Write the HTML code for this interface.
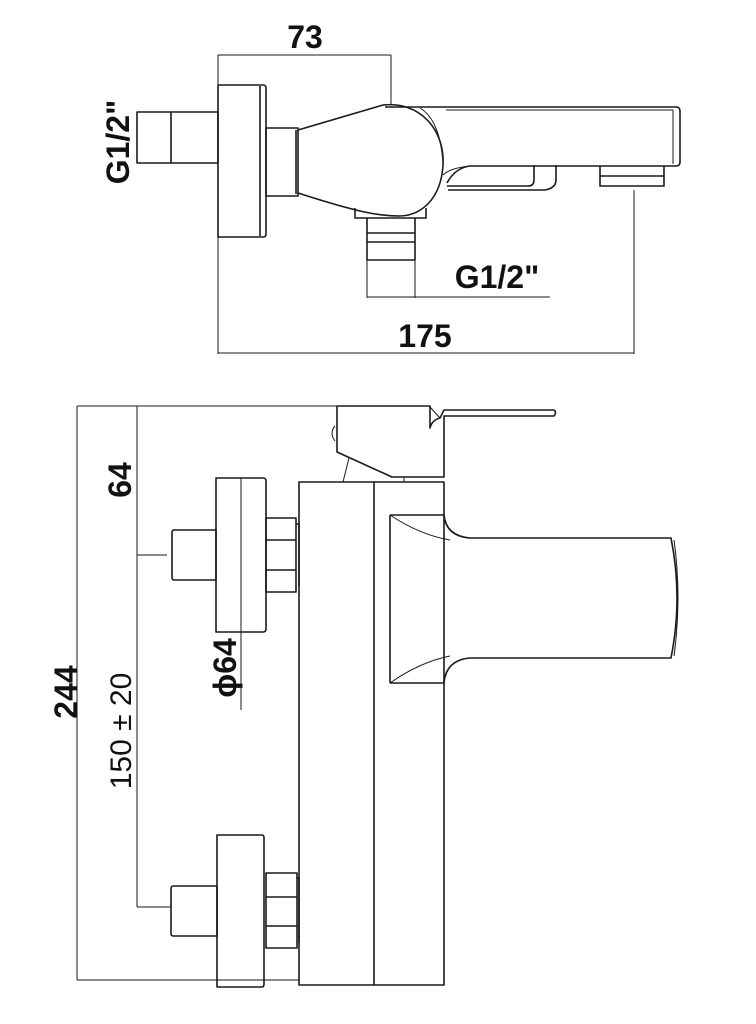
<!DOCTYPE html>
<html><head><meta charset="utf-8"><style>
html,body{margin:0;padding:0;background:#fff}
svg{display:block}
.l{fill:none;stroke:#1a1a1a;stroke-width:1.6;stroke-linejoin:round}
.t{stroke-width:1}
text{font-family:"Liberation Sans",sans-serif;fill:#111}
.b{font-weight:bold;font-size:32px}
</style></head><body>
<svg width="756" height="1024" viewBox="0 0 756 1024">
<!-- TOP VIEW -->
<g class="l">
<path class="t" d="M218 55H391M218 55V354M391 55V105M218 353H634M634 190V354M367 260V298M415 260V298M367 297H550"/>
<path d="M137 112H218V163H137Z M171 112V163"/>
<path d="M218 85H263Q266 85 266 88V234Q266 237 263 237H218Z M260 86V236"/>
<path d="M266 128H298V196H266Z M296 130V194"/>
<path d="M298 130L383 105C420 101 445 130 443 165C441 200 420 216 399 216C380 216 360 213 298 193"/>
<path d="M385 107H676Q680 107 680 111V162Q680 166 676 166H470Q455 168 447 183"/>
<path class="t" d="M420 108Q440 120 443 163M446 110H673V164M443 175Q450 168 470 166"/>
<path d="M534 165V180Q534 186 528 186H447M556 165V180Q556 188 545 190H448"/>
<path d="M600 166V186H664V166M600 176H664"/>
<path d="M355 208V218H426V208M367 218V260H415V218M367 233H415M367 242H415"/>
</g>
<text class="b" x="305" y="48" text-anchor="middle">73</text>
<text class="b" x="425" y="347" text-anchor="middle">175</text>
<text class="b" x="497" y="288" text-anchor="middle" font-size="30">G1/2"</text>
<text class="b" transform="translate(129,142) rotate(-90)" text-anchor="middle" font-size="30">G1/2"</text>

<!-- SIDE VIEW -->
<g class="l">
<path class="t" d="M77 406H337M77 406V980M77 980H300M137 406V907M137 555H167M137 907H171M241 478V710"/>
<path d="M337 406H430V428Q432 420 440 418L444 410H554Q557 412 554 416H444V477H392L337 452Z"/>
<path class="t" d="M430 407L440 418M349 458L343 482M404 477V482"/>
<path class="t" d="M335 426Q329 433 335 441"/>
<path d="M299 482H444V985H299Z M374 482V985"/>
<path d="M390 515V683M390 515H444Q446 536 470 538H671Q683 598 671 658H470Q446 660 444 683H390"/>
<path class="t" d="M390 515Q420 535 450 540M390 683Q420 662 450 656M674 540Q682 598 674 656"/>
<path d="M216 478H263Q266 478 266 481V629Q266 632 263 632H216Z"/>
<path d="M174 530H216V580H174Q172 580 172 577V533Q172 530 174 530Z"/>
<path d="M266 518H296V592H266Z M266 540H296M266 570H296M296 524H299V586"/>
<path d="M217 835H262Q264 835 264 838V984Q264 987 262 987H217Z"/>
<path d="M173 886H217V936H173Q171 936 171 933V889Q171 886 173 886Z"/>
<path d="M266 873H297V948H266Z M266 897H297M266 926H297M297 878H299V943"/>
</g>
<text class="b" transform="translate(131,480) rotate(-90)" text-anchor="middle">64</text>
<text class="b" transform="translate(77,692) rotate(-90)" text-anchor="middle">244</text>
<text transform="translate(131,731) rotate(-90)" text-anchor="middle" font-size="30">150 ± 20</text>
<text class="b" transform="translate(236,668) rotate(-90)" text-anchor="middle">ϕ64</text>
</svg>
</body></html>
